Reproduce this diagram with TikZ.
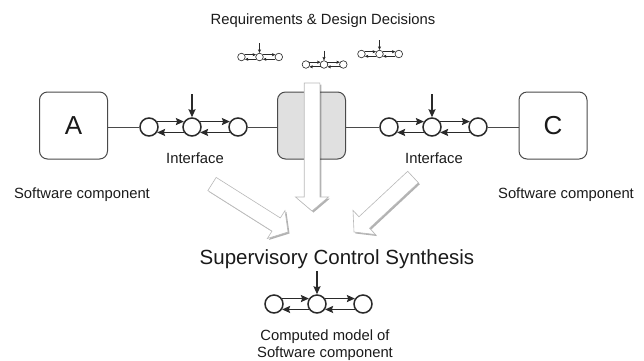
\documentclass[tikz,border=0pt]{standalone}
\usepackage{fontspec}
\setmainfont{Liberation Sans}
\usetikzlibrary{arrows.meta,calc,shadows}
\definecolor{ink}{HTML}{2A2A2A}
\definecolor{txt}{HTML}{1A1A1A}
\definecolor{boxfill}{HTML}{E0E0E0}
\tikzset{
  st/.style={circle, draw=ink, fill=white, inner sep=0pt},
  tr/.style={draw=ink},
  box/.style={draw=ink!85, rounded corners=8pt, minimum width=68pt, minimum height=67pt,
    line width=1pt, inner sep=0pt, text=txt, font=\fontsize{26}{30}\selectfont},
  link/.style={draw=ink!85, line width=0.9pt},
  lbl/.style={text=txt, font=\fontsize{14.8}{17}\selectfont, anchor=base, inner sep=0pt},
  bigarr/.style={fill=white, draw=gray!55, line width=0.6pt, line join=miter,
    drop shadow={shadow xshift=1.5pt, shadow yshift=-1.5pt, fill=black, opacity=0.3}},
}
\newcommand\fsm[4]{%
  \pgfmathsetmacro\fsmd{18*#4}%
  \pgfmathsetmacro\fsmlw{1.5*#4}%
  \pgfmathsetmacro\fsmlx{#2-43*#4}%
  \pgfmathsetmacro\fsmrx{#2+46*#4}%
  \pgfmathsetmacro\fsmiy{#3-33*#4}%
  \begin{scope}[line width=\fsmlw pt]
    \node[st, minimum size=\fsmd pt] (#1-l) at (\fsmlx,#3) {};
    \node[st, minimum size=\fsmd pt] (#1-m) at (#2,#3) {};
    \node[st, minimum size=\fsmd pt] (#1-r) at (\fsmrx,#3) {};
    \coordinate (#1-in) at (#2,\fsmiy);
    \draw[tr, -{Stealth[length=8pt,width=7pt,inset=1.2pt,scale=#4]}] (#1-in) -- (#1-m);
    \draw[tr, -{Stealth[length=8pt,width=7pt,inset=1.2pt,scale=#4]}] (#1-l.34) -- (#1-m.146);
    \draw[tr, -{Stealth[length=8pt,width=7pt,inset=1.2pt,scale=#4]}] (#1-m.34) -- (#1-r.146);
    \draw[tr, -{Stealth[length=8pt,width=7pt,inset=1.2pt,scale=#4]}] (#1-m.-146) -- (#1-l.-34);
    \draw[tr, -{Stealth[length=8pt,width=7pt,inset=1.2pt,scale=#4]}] (#1-r.-146) -- (#1-m.-34);
  \end{scope}}
\newcommand\bigarrow[2]{%
  \coordinate (#1-b) at ($(#2)!14pt!(#1)$);
  \filldraw[bigarr] ($(#1)!7.8pt!90:(#2)$) -- ($(#1-b)!7.8pt!90:(#2)$)
    -- ($(#1-b)!16.5pt!90:(#2)$) -- (#2) -- ($(#1-b)!16.5pt!-90:(#2)$)
    -- ($(#1-b)!7.8pt!-90:(#2)$) -- ($(#1)!7.8pt!-90:(#2)$) -- cycle;}
\begin{document}
\begin{tikzpicture}[x=1pt, y=-1pt]
\useasboundingbox (0,0) rectangle (644,360);

% title and requirement automata
\node[lbl] (title) at (323,24) {Requirements \& Design Decisions};
\fsm{q1}{259.5}{57}{0.42}
\fsm{q2}{324}{64.5}{0.42}
\fsm{q3}{379.5}{54}{0.42}

% components
\node[box] (A) at (73.5,125.5) {A};
\node[box, fill=boxfill, text=black] (B) at (311.5,125.5) {};
\node[box] (C) at (553,125.5) {C};

% interfaces
\fsm{i1}{192}{127}{1}
\fsm{i2}{432}{127}{1}
\draw[link] (A.east |- i1-l.west) -- (i1-l.west);
\draw[link] (i1-r.east) -- (B.west |- i1-r.east);
\draw[link] (B.east |- i2-l.west) -- (i2-l.west);
\draw[link] (i2-r.east) -- (C.west |- i2-r.east);

\node[lbl] (if1) at (195,163) {Interface};
\node[lbl] (if2) at (434,163) {Interface};
\node[lbl] (sc1) at (82,198) {Software component};
\node[lbl] (sc2) at (566,198) {Software component};

% big arrows
\coordinate (vt) at (312,83);   \coordinate (vp) at (312,211);
\coordinate (lt) at (212,184);  \coordinate (lp) at (288,232);
\coordinate (rt) at (413,177);  \coordinate (rp) at (354,232);
\bigarrow{vt}{vp}
\bigarrow{lt}{lp}
\bigarrow{rt}{rp}

% synthesis
\node[lbl, font=\fontsize{20.5}{24}\selectfont] (syn) at (337,264) {Supervisory Control Synthesis};
\fsm{o}{317}{304}{1}
\node[lbl] (cm1) at (325,340) {Computed model of};
\node[lbl] (cm2) at (325,357) {Software component};
\end{tikzpicture}
\end{document}
